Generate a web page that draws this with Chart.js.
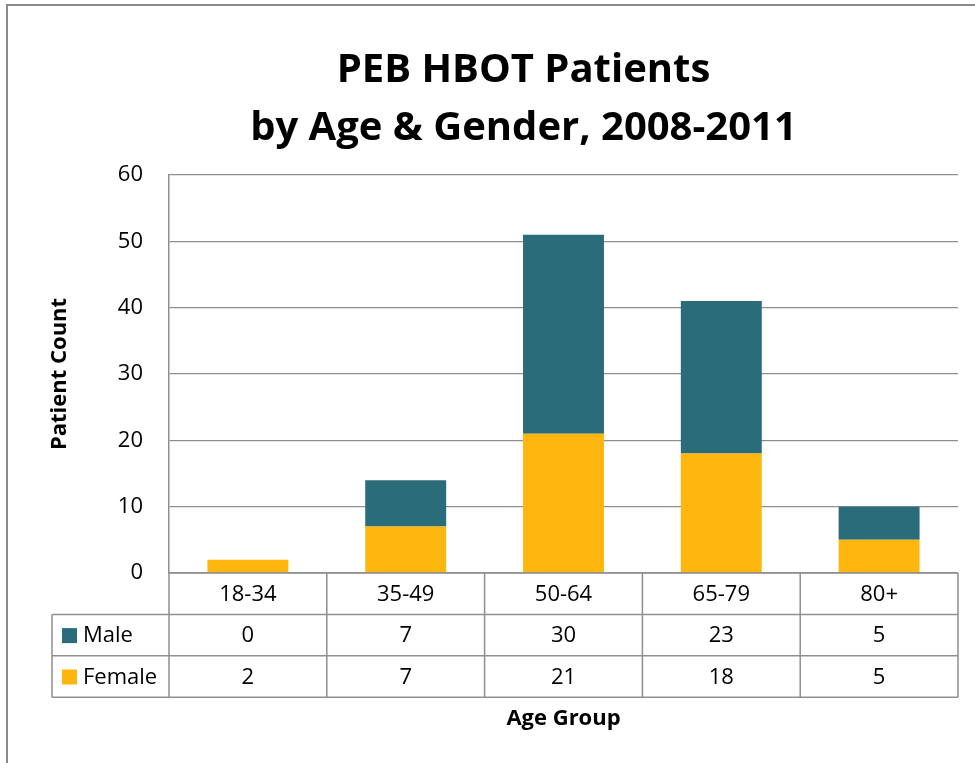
<!DOCTYPE html>
<html>
<head>
<meta charset="utf-8">
<script src="https://cdn.jsdelivr.net/npm/chart.js@4/dist/chart.umd.min.js"></script>
<style>
  html, body { margin: 0; padding: 0; background: #fff; }
  #wrap { width: 975px; height: 763px; position: relative; }
</style>
</head>
<body>
<div id="wrap"><canvas id="c" width="975" height="763"></canvas></div>
<script>
const categories = ['18-34', '35-49', '50-64', '65-79', '80+'];
const maleCounts = [0, 7, 30, 23, 5];
const femaleCounts = [2, 7, 21, 18, 5];
const yTicks = [0, 10, 20, 30, 40, 50, 60];
const titleLines = ['PEB HBOT Patients', 'by Age & Gender, 2008-2011'];
const seriesNames = ['Male', 'Female'];

const MALE_COLOR = '#2B6C7B';
const FEMALE_COLOR = '#FFB70F';
const LINE_COLOR = '#8f8f8f';
const FONT = "'Open Sans', 'Liberation Sans', sans-serif";

const tablePlugin = {
  id: 'dataTable',
  beforeDraw(chart) {
    const ctx = chart.ctx;
    ctx.save();
    ctx.fillStyle = '#fff';
    ctx.fillRect(0, 0, chart.width, chart.height);
    ctx.strokeStyle = '#8a8a8a';
    ctx.lineWidth = 2;
    ctx.beginPath();
    ctx.moveTo(7, chart.height + 5);
    ctx.lineTo(7, 5);
    ctx.lineTo(chart.width + 5, 5);
    ctx.stroke();
    ctx.restore();
  },
  afterDraw(chart) {
    const ctx = chart.ctx;
    const x = chart.scales.x;
    const area = chart.chartArea;
    const rowH = 41.4;
    const top = area.bottom;
    const n = categories.length;
    const colW = (area.right - area.left) / n;
    const legendLeft = 52;
    const rows = [
      { name: seriesNames[0], color: MALE_COLOR, vals: maleCounts },
      { name: seriesNames[1], color: FEMALE_COLOR, vals: femaleCounts }
    ];
    ctx.save();
    // title
    ctx.fillStyle = '#000';
    ctx.font = 'bold 40px ' + FONT;
    ctx.textAlign = 'center';
    ctx.textBaseline = 'alphabetic';
    ctx.fillText(titleLines[0], 523.5, 82);
    ctx.fillText(titleLines[1], 523.5, 140);

    ctx.strokeStyle = LINE_COLOR;
    ctx.lineWidth = 1.5;
    ctx.beginPath();
    ctx.moveTo(area.left, top); ctx.lineTo(area.right, top);
    for (let r = 1; r <= 3; r++) {
      ctx.moveTo(legendLeft, top + r * rowH);
      ctx.lineTo(area.right, top + r * rowH);
    }
    for (let i = 0; i <= n; i++) {
      const px = area.left + i * colW;
      ctx.moveTo(px, top);
      ctx.lineTo(px, top + 3 * rowH);
    }
    ctx.moveTo(legendLeft, top + rowH);
    ctx.lineTo(legendLeft, top + 3 * rowH);
    ctx.stroke();

    ctx.fillStyle = '#000';
    ctx.font = '22px ' + FONT;
    ctx.textAlign = 'center';
    ctx.textBaseline = 'middle';
    categories.forEach((c, i) => {
      ctx.fillText(c, x.getPixelForValue(i), top + rowH / 2 + 1);
    });
    rows.forEach((row, r) => {
      const cy = top + (r + 1.5) * rowH + 1;
      row.vals.forEach((v, i) => {
        ctx.fillStyle = '#000';
        ctx.textAlign = 'center';
        ctx.fillText(String(v), x.getPixelForValue(i), cy);
      });
      ctx.fillStyle = row.color;
      ctx.fillRect(62, cy - 8, 15, 15);
      ctx.fillStyle = '#000';
      ctx.textAlign = 'left';
      ctx.fillText(row.name, 83, cy);
    });

    ctx.font = 'bold 22px ' + FONT;
    ctx.textAlign = 'center';
    ctx.fillText('Age Group', (area.left + area.right) / 2, 719);
    ctx.restore();
  }
};

new Chart(document.getElementById('c'), {
  type: 'bar',
  data: {
    labels: categories,
    datasets: [
      { label: seriesNames[1], data: femaleCounts, backgroundColor: FEMALE_COLOR, stack: 's',
        categoryPercentage: 1, barPercentage: 0.513 },
      { label: seriesNames[0], data: maleCounts, backgroundColor: MALE_COLOR, stack: 's',
        categoryPercentage: 1, barPercentage: 0.513 }
    ]
  },
  options: {
    responsive: false,
    animation: false,
    devicePixelRatio: 1,
    layout: { padding: { left: 0, right: 17, top: 175, bottom: 0 } },
    plugins: {
      legend: { display: false },
      tooltip: { enabled: false },
      title: { display: false }
    },
    scales: {
      x: {
        stacked: true,
        grid: { display: false },
        border: { display: false },
        ticks: { display: false },
        afterFit(scale) { scale.height = 190; }
      },
      y: {
        stacked: true,
        min: 0,
        max: 60,
        afterBuildTicks(scale) { scale.ticks = yTicks.map(v => ({ value: v })); },
        ticks: { color: '#000', font: { family: FONT, size: 22 }, padding: 26 },
        grid: { color: LINE_COLOR, lineWidth: 1.2, drawTicks: false },
        border: { display: true, color: LINE_COLOR, width: 1.5 },
        title: {
          display: true,
          text: 'Patient Count',
          color: '#000',
          font: { family: FONT, size: 22, weight: 'bold', lineHeight: 1.2 },
          padding: { top: 47, bottom: 0 }
        },
        afterFit(scale) { scale.width = 169; }
      }
    }
  },
  plugins: [tablePlugin]
});
</script>
</body>
</html>
